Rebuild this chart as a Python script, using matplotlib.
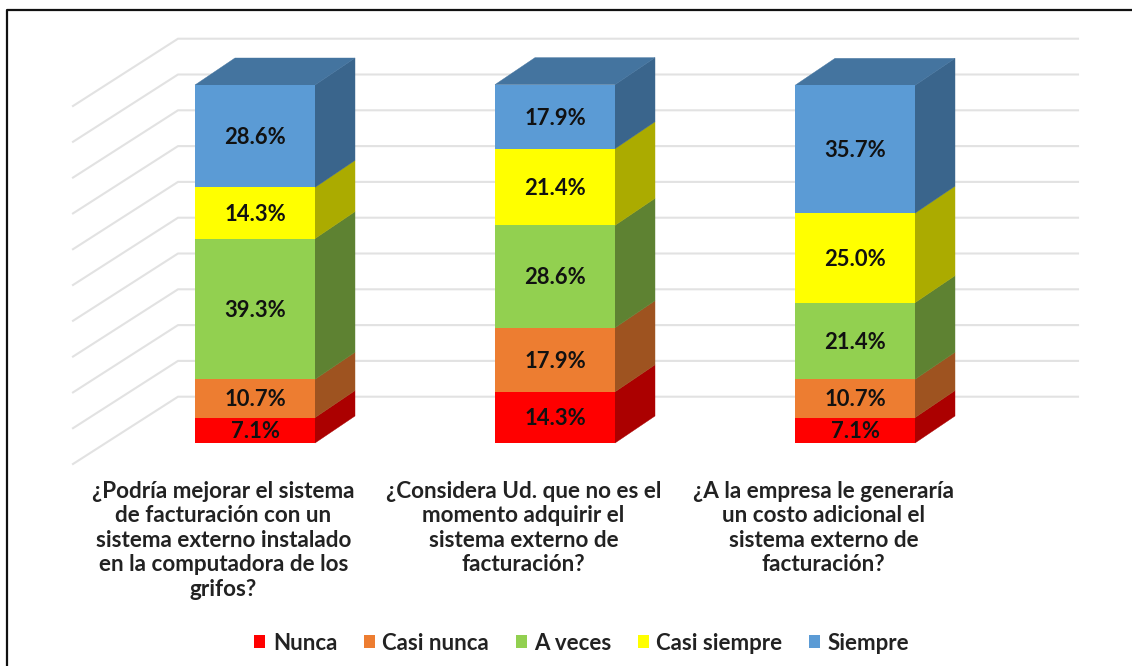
import matplotlib
matplotlib.use("Agg")
import matplotlib.pyplot as plt
from matplotlib.patches import Polygon

plt.rcParams['font.family'] = ['Lato', 'DejaVu Sans']

questions = ["¿Podría mejorar el sistema\nde facturación con un\nsistema externo instalado\nen la computadora de los\ngrifos?",
             "¿Considera Ud. que no es el\nmomento adquirir el\nsistema externo de\nfacturación?",
             "¿A la empresa le generaría\nun costo adicional el\nsistema externo de\nfacturación?"]
series_names = ["Nunca", "Casi nunca", "A veces", "Casi siempre", "Siempre"]
nunca = [7.1, 14.3, 7.1]
casi_nunca = [10.7, 17.9, 10.7]
a_veces = [39.3, 28.6, 21.4]
casi_siempre = [14.3, 21.4, 25.0]
siempre = [28.6, 17.9, 35.7]
grid_values = [0, 10, 20, 30, 40, 50, 60, 70, 80, 90, 100]

front_colors = ["#ff0000", "#ed7d31", "#92d050", "#ffff00", "#5b9bd5"]
side_colors = ["#ab0000", "#9e5320", "#5e8232", "#abab00", "#3a658c"]
top_color = "#44749f"

W, H = 1132, 666
# pixel layout: category spacing 300px, 3.58px per percent, zero at y=443
px_cat = 300.0
px_pct = 3.58
x0 = 255.0
y0 = 443.0
bar_w = 0.4
dx = 40 / px_cat
dy = 27 / px_pct

fig = plt.figure(figsize=(W / 100, H / 100), dpi=100, facecolor='w')
ax = fig.add_axes([0, 0, 1, 1])
ax.set_xlim(-x0 / px_cat, (W - x0) / px_cat)
ax.set_ylim(-(H - y0) / px_pct, y0 / px_pct)
ax.axis('off')

# walls
wall_c = "#e2e2e2"
for v in grid_values:
    xa = (73 - x0) / px_cat
    xb = (178 - x0) / px_cat
    xc = (1078 - x0) / px_cat
    ya = v - 21 / px_pct
    yb = v + 46.3 / px_pct
    ax.plot([xa, xb, xc], [ya, yb, yb], color=wall_c, lw=1.5, zorder=1)

# stacked bars
stack = [nunca, casi_nunca, a_veces, casi_siempre, siempre]
xs = range(len(questions))
bottom = [0.0, 0.0, 0.0]
for vals, name, fc, sc in zip(stack, series_names, front_colors, side_colors):
    ax.bar(xs, vals, bar_w, bottom=bottom, color=fc, zorder=3, label=name)
    for i in xs:
        r = i + bar_w / 2
        b = bottom[i]
        t = b + vals[i]
        ax.add_patch(Polygon([(r, b), (r + dx, b + dy), (r + dx, t + dy), (r, t)],
                             closed=True, fc=sc, ec=sc, lw=0.3, zorder=2))
        ax.annotate("%.1f%%" % vals[i], (i, b + vals[i] / 2), xytext=(0, -1), textcoords='offset points',
                    ha='center', va='center', fontsize=15.8, fontweight='bold', color='#111111', zorder=4)
    bottom = [b + v for b, v in zip(bottom, vals)]

for i in xs:
    l = i - bar_w / 2
    r = i + bar_w / 2
    t = bottom[i]
    ax.add_patch(Polygon([(l, t), (l + dx, t + dy), (r + dx, t + dy), (r, t)],
                         closed=True, fc=top_color, ec=top_color, lw=0.3, zorder=2))
    ax.text(i - 0.105, -(481 - y0) / px_pct, questions[i], ha='center', va='top',
            fontsize=16.2, fontweight='bold', color='#222222', linespacing=1.2, zorder=4)

leg = ax.legend(loc='center', bbox_to_anchor=(0.514, 1 - 643 / H), ncol=5, frameon=False,
                handlelength=0.5, handleheight=0.5, handletextpad=0.33,
                columnspacing=1.2, prop={'weight': 'bold', 'size': 16})
for t in leg.get_texts():
    t.set_color('#222222')

# frame around the picture, open on the right
fig.add_artist(plt.Line2D([7 / W, 7 / W, 1], [0, 1 - 10 / H, 1 - 10 / H],
                          color='#111111', lw=1.6))

fig.savefig("out.png", dpi=100)
